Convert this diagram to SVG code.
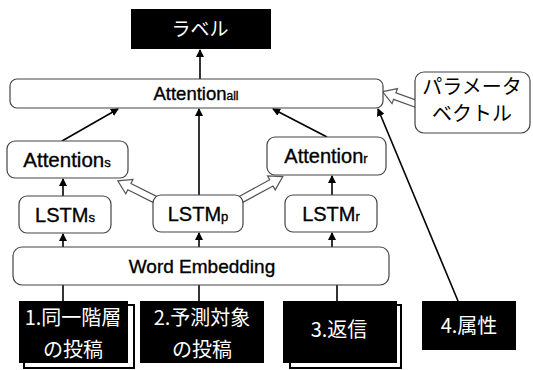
<svg xmlns="http://www.w3.org/2000/svg" width="533" height="370" viewBox="0 0 533 370">
<defs>
<style>
.box{fill:#fff;stroke:#444;stroke-width:1.2}
.blk{fill:#000}
.lat{font-family:"Liberation Sans",Arial,sans-serif;fill:#000;stroke:#000;stroke-width:0.35;text-anchor:middle}
.jp{font-family:"Noto Sans CJK JP","Noto Sans CJK SC",sans-serif;text-anchor:middle}
.w{fill:#fff}
.k{fill:#000}
.ln{stroke:#000;stroke-width:1.6;fill:none}
.blockarrow{fill:#fff;stroke:#555;stroke-width:1.2}
</style>
<marker id="ah" markerWidth="8" markerHeight="8" refX="7" refY="4" orient="auto" markerUnits="userSpaceOnUse">
<path d="M0,0 L8,4 L0,8 Z" fill="#000"/>
</marker>
</defs>
<rect width="533" height="370" fill="#fff"/>

<g id="connectors">
<line class="ln" x1="200" y1="79" x2="200" y2="50" marker-end="url(#ah)"/>
<line class="ln" x1="62" y1="141" x2="118" y2="109" marker-end="url(#ah)"/>
<line class="ln" x1="199" y1="195" x2="199" y2="109" marker-end="url(#ah)"/>
<line class="ln" x1="327" y1="137" x2="273" y2="109" marker-end="url(#ah)"/>
<line class="ln" x1="458" y1="301" x2="378" y2="109" marker-end="url(#ah)"/>
<line class="ln" x1="63" y1="196" x2="63" y2="179" marker-end="url(#ah)"/>
<line class="ln" x1="332" y1="195" x2="332" y2="176" marker-end="url(#ah)"/>
<line class="ln" x1="63" y1="247" x2="63" y2="234" marker-end="url(#ah)"/>
<line class="ln" x1="199" y1="247" x2="199" y2="233" marker-end="url(#ah)"/>
<line class="ln" x1="332" y1="247" x2="332" y2="233" marker-end="url(#ah)"/>
<line class="ln" x1="63" y1="285" x2="63" y2="301"/>
<line class="ln" x1="199" y1="285" x2="199" y2="301"/>
<line class="ln" x1="337" y1="285" x2="337" y2="301"/>
<!-- block arrows -->
<g transform="translate(158,201) rotate(206.6)">
<path class="blockarrow" d="M0,-3.5 L32,-3.5 L32,-8 L45,0 L32,8 L32,3.5 L0,3.5 Z"/>
</g>
<g transform="translate(238,201) rotate(-28.5)">
<path class="blockarrow" d="M0,-3.5 L38,-3.5 L38,-8 L51,0 L38,8 L38,3.5 L0,3.5 Z"/>
</g>
<g transform="translate(422,106) rotate(200)">
<path class="blockarrow" d="M0,-3.5 L29,-3.5 L29,-8 L42,0 L29,8 L29,3.5 L0,3.5 Z"/>
</g>
</g>

<g id="label">
<rect class="blk" x="131" y="9" width="140" height="40"/>
<text class="jp w" x="200" y="36" font-size="19">ラベル</text>
</g>

<g id="attention_all">
<rect class="box" x="10" y="79" width="373" height="29" rx="7"/>
<text class="lat" x="196" y="100" font-size="18.5">Attention<tspan font-size="12">all</tspan></text>
</g>

<g id="param">
<rect class="box" x="415" y="72" width="115" height="61" rx="9"/>
<text class="jp k" x="472" y="94" font-size="20">パラメータ</text>
<text class="jp k" x="472" y="121" font-size="20">ベクトル</text>
</g>

<g id="attention_s">
<rect class="box" x="7" y="141" width="121" height="37" rx="8"/>
<text class="lat" x="67" y="167" font-size="20.5">Attention<tspan font-size="13">s</tspan></text>
</g>

<g id="attention_r">
<rect class="box" x="267" y="137" width="119" height="38" rx="8"/>
<text class="lat" x="326" y="163" font-size="20">Attention<tspan font-size="13">r</tspan></text>
</g>

<g id="lstm_s">
<rect class="box" x="19" y="196" width="92" height="37" rx="8"/>
<text class="lat" x="65" y="222" font-size="20">LSTM<tspan font-size="13">s</tspan></text>
</g>

<g id="lstm_p">
<rect class="box" x="153" y="195" width="90" height="37" rx="8"/>
<text class="lat" x="198" y="221" font-size="20">LSTM<tspan font-size="13">p</tspan></text>
</g>

<g id="lstm_r">
<rect class="box" x="285" y="195" width="92" height="37" rx="8"/>
<text class="lat" x="331" y="221" font-size="20">LSTM<tspan font-size="13">r</tspan></text>
</g>

<g id="word_embedding">
<rect class="box" x="13" y="247" width="376" height="38" rx="9"/>
<text class="lat" x="202" y="273" font-size="19">Word Embedding</text>
</g>

<g id="input1">
<rect x="24" y="305" width="110" height="63" fill="#fff" stroke="#000" stroke-width="2"/>
<rect class="blk" x="19" y="301" width="109" height="62"/>
<text class="jp w" x="73" y="325" font-size="20">1.同一階層</text>
<text class="jp w" x="73" y="357" font-size="20">の投稿</text>
</g>

<g id="input2">
<rect class="blk" x="140" y="301" width="124" height="62"/>
<text class="jp w" x="202" y="325" font-size="20">2.予測対象</text>
<text class="jp w" x="202" y="357" font-size="20">の投稿</text>
</g>

<g id="input3">
<rect x="290" y="305" width="111" height="63" fill="#fff" stroke="#000" stroke-width="2"/>
<rect class="blk" x="283" y="301" width="114" height="62"/>
<text class="jp w" x="339" y="337" font-size="20">3.返信</text>
</g>

<g id="input4">
<rect class="blk" x="422" y="301" width="94" height="49"/>
<text class="jp w" x="469" y="333" font-size="20">4.属性</text>
</g>
</svg>
